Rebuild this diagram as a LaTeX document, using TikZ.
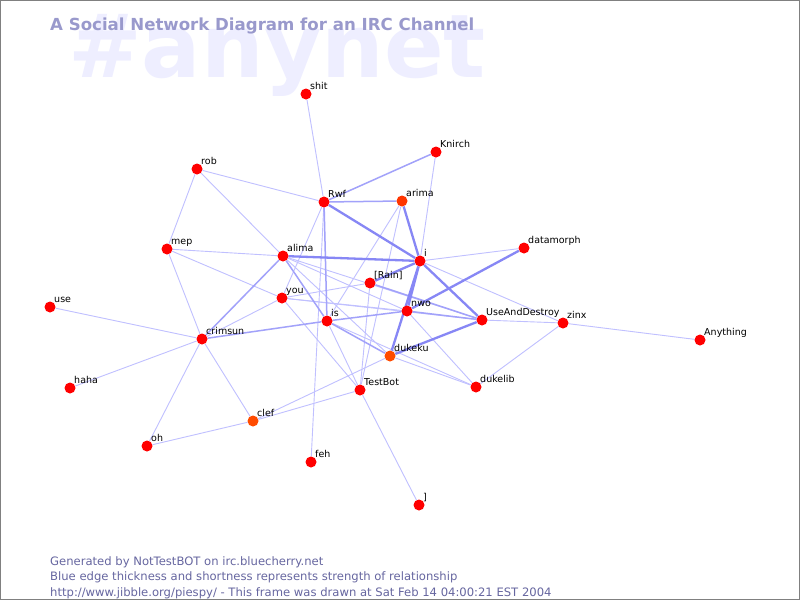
\documentclass[tikz,border=0pt]{standalone}
\usepackage{fontspec}
\setmainfont{DejaVu Sans}
\usetikzlibrary{backgrounds}

\definecolor{nickred}{RGB}{255,0,0}
\definecolor{nickorange}{RGB}{255,75,0}
\definecolor{tieweak}{RGB}{192,192,255}
\definecolor{tiemid}{RGB}{162,162,250}
\definecolor{tiestrong}{RGB}{135,135,245}
\definecolor{titleblue}{RGB}{153,153,204}
\definecolor{markblue}{RGB}{238,238,255}
\definecolor{footblue}{RGB}{102,102,160}

\tikzset{
  nick/.style={circle, fill=nickred, inner sep=0pt, minimum size=11pt, label distance=1.5pt,
    label={[nicklabel]north east:{#1}}},
  nicklabel/.style={anchor=base west, inner sep=0pt, font=\fontsize{9.5}{10}\selectfont},
  weaktie/.style={draw=tieweak, line width=0.9pt},
  midtie/.style={draw=tiemid, line width=1.5pt},
  strongtie/.style={draw=tiestrong, line width=2.3pt},
  footline/.style={anchor=base west, inner sep=0pt, text=footblue, font=\fontsize{11.6}{12}\selectfont}
}

\begin{document}
\begin{tikzpicture}[x=1pt, y=-1pt]
\useasboundingbox (0,0) rectangle (800,600);

% the nicks
\node[nick=shit] (shit) at (306,94) {};
\node[nick=Knirch] (knirch) at (436,152) {};
\node[nick=rob] (rob) at (197,169) {};
\node[nick=Rwf] (rwf) at (324,202) {};
\node[nick=arima, fill=nickorange!70!nickred] (arima) at (402,201) {};
\node[nick=mep] (mep) at (167,249) {};
\node[nick=alima] (alima) at (283,256) {};
\node[nick=i] (i) at (420,261) {};
\node[nick=datamorph] (datamorph) at (524,248) {};
\node[nick={[Rain]}] (rain) at (370,283) {};
\node[nick=you] (you) at (282,298) {};
\node[nick=use] (use) at (50,307) {};
\node[nick=nwo] (nwo) at (407,311) {};
\node[nick=is] (is) at (327,321) {};
\node[nick=UseAndDestroy] (uad) at (482,320) {};
\node[nick=zinx] (zinx) at (563,323) {};
\node[nick=Anything] (anything) at (700,340) {};
\node[nick=crimsun] (crimsun) at (202,339) {};
\node[nick=dukeku, fill=nickorange] (dukeku) at (390,356) {};
\node[nick=haha] (haha) at (70,388) {};
\node[nick=TestBot] (testbot) at (360,390) {};
\node[nick=dukelib] (dukelib) at (476,387) {};
\node[nick=clef, fill=nickorange] (clef) at (253,421) {};
\node[nick=oh] (oh) at (147,446) {};
\node[nick=feh] (feh) at (311,462) {};
\node[nick={]}] (rbr) at (419,505) {};

\node[anchor=base west, inner sep=0pt, text=titleblue, font=\fontsize{16.6}{17}\selectfont\bfseries] (title) at (50,30) {A Social Network Diagram for an IRC Channel};

\node[footline] (foot1) at (50,565) {Generated by NotTestBOT on irc.bluecherry.net};
\node[footline] (foot2) at (50,580.5) {Blue edge thickness and shortness represents strength of relationship};
\node[footline] (foot3) at (50,596) {http://www.jibble.org/piespy/ - This frame was drawn at Sat Feb 14 04:00:21 EST 2004};

\begin{scope}[on background layer]
\fill[white] (0,0) rectangle (800,600);
\node[anchor=base west, inner sep=0pt, text=markblue, font=\fontsize{88}{88}\selectfont\bfseries] (mark) at (68,77) {\#anynet};

% weak ties
\draw[weaktie] (shit) -- (rwf);
\draw[weaktie] (knirch) -- (i);
\draw[weaktie] (rob) -- (rwf);
\draw[weaktie] (rob) -- (mep);
\draw[weaktie] (rob) -- (alima);
\draw[weaktie] (mep) -- (alima);
\draw[weaktie] (mep) -- (you);
\draw[weaktie] (mep) -- (crimsun);
\draw[weaktie] (use) -- (crimsun);
\draw[weaktie] (haha) -- (crimsun);
\draw[weaktie] (oh) -- (crimsun);
\draw[weaktie] (crimsun) -- (clef);
\draw[weaktie] (crimsun) -- (you);
\draw[weaktie] (oh) -- (clef);
\draw[weaktie] (clef) -- (testbot);
\draw[weaktie] (clef) -- (dukeku);
\draw[weaktie] (rwf) -- (feh);
\draw[weaktie] (rwf) -- (you);
\draw[weaktie] (you) -- (rain);
\draw[weaktie] (you) -- (nwo);
\draw[weaktie] (you) -- (uad);
\draw[weaktie] (you) -- (testbot);
\draw[weaktie] (is) -- (testbot);
\draw[weaktie] (is) -- (dukelib);
\draw[weaktie] (nwo) -- (dukelib);
\draw[weaktie] (dukeku) -- (dukelib);
\draw[weaktie] (zinx) -- (dukelib);
\draw[weaktie] (zinx) -- (uad);
\draw[weaktie] (zinx) -- (anything);
\draw[weaktie] (i) -- (zinx);
\draw[weaktie] (i) -- (datamorph);
\draw[weaktie] (testbot) -- (rbr);
\draw[weaktie] (rain) -- (testbot);
\draw[weaktie] (arima) -- (testbot);
\draw[weaktie] (arima) -- (is);
\draw[weaktie] (alima) -- (nwo);
\draw[weaktie] (alima) -- (uad);
\draw[weaktie] (alima) -- (dukeku);

% middle ties
\draw[midtie] (knirch) -- (rwf);
\draw[midtie] (rwf) -- (arima);
\draw[midtie] (rwf) -- (is);
\draw[midtie] (alima) -- (is);
\draw[midtie] (crimsun) -- (is);
\draw[midtie] (crimsun) -- (alima);
\draw[midtie] (is) -- (nwo);
\draw[midtie] (is) -- (dukeku);
\draw[midtie] (nwo) -- (uad);
\draw[midtie] (rain) -- (uad);

% strong ties
\draw[strongtie] (alima) -- (i);
\draw[strongtie] (rwf) -- (i);
\draw[strongtie] (arima) -- (i);
\draw[strongtie] (rain) -- (i);
\draw[strongtie] (i) -- (nwo);
\draw[strongtie] (i) -- (dukeku);
\draw[strongtie] (i) -- (uad);
\draw[strongtie] (nwo) -- (datamorph);
\draw[strongtie] (dukeku) -- (uad);
\end{scope}

\draw[gray, line width=1pt] (0.5,0.5) rectangle (799.5,599.5);
\end{tikzpicture}
\end{document}
